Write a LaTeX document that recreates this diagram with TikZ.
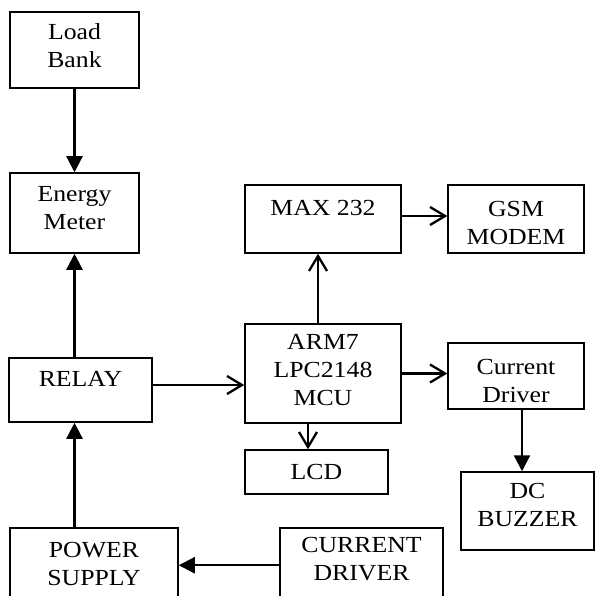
\documentclass[tikz,border=0pt]{standalone}
\usepackage{fontspec}
\setmainfont{Liberation Serif}[FakeStretch=1.12]
\usetikzlibrary{arrows.meta}
\tikzset{
  box/.style={draw, line width=1.5pt, rectangle, inner sep=0pt},
  txt/.style={align=center, inner sep=0pt, font=\fontsize{23}{28}\selectfont},
  solidarrow/.style={line width=2.3pt, -{Triangle[length=16pt,width=16pt]}},
  openarrow/.style={line width=2.3pt, -{Straight Barb[length=15pt,width=18pt,line width=2.3pt]}},
}
\begin{document}
\begin{tikzpicture}[x=1pt,y=-1pt]
\clip (0,0) rectangle (595,596);
\fill[white] (0,0) rectangle (595,596);
% boxes
\node[box, minimum width=129pt, minimum height=76pt] (load) at (74.5,50) {};
\node[box, minimum width=129pt, minimum height=80pt] (meter) at (74.5,213) {};
\node[box, minimum width=156pt, minimum height=68pt] (max) at (323,219) {};
\node[box, minimum width=136pt, minimum height=68pt] (gsm) at (516,219) {};
\node[box, minimum width=143pt, minimum height=64pt] (relay) at (80.5,390) {};
\node[box, minimum width=156pt, minimum height=99pt] (arm) at (323,373.5) {};
\node[box, minimum width=136pt, minimum height=66pt] (cdrv) at (516,376) {};
\node[box, minimum width=143pt, minimum height=44pt] (lcd) at (316.5,472) {};
\node[box, minimum width=133pt, minimum height=78pt] (buzz) at (527.5,511) {};
\node[box, minimum width=168pt, minimum height=92pt] (ps) at (94,574) {};
\node[box, minimum width=163pt, minimum height=92pt] (cd2) at (361.5,574) {};
% texts
\node[txt] (tload) at (74.5,46) {Load\\Bank};
\node[txt] (tmeter) at (74.5,208.5) {Energy\\Meter};
\node[txt] (tmax) at (323,208) {MAX 232};
\node[txt] (tgsm) at (516,223) {GSM\\MODEM};
\node[txt] (trelay) at (80.5,379) {RELAY};
\node[txt] (tarm) at (323,370) {ARM7\\LPC2148\\MCU};
\node[txt] (tcdrv) at (516,381) {Current\\Driver};
\node[txt] (tlcd) at (316.5,472) {LCD};
\node[txt] (tbuzz) at (527.5,504.5) {DC\\BUZZER};
\node[txt] (tps) at (94,563.5) {POWER\\SUPPLY};
\node[txt] (tcd2) at (361.5,559.5) {CURRENT\\DRIVER};
% connectors
\draw[solidarrow] (load.south) -- (meter.north);
\draw[solidarrow] (relay.north -| meter.south) -- (meter.south);
\draw[solidarrow] (ps.north -| meter.south) -- (relay.south -| meter.south);
\draw[openarrow] ([yshift=5pt]relay.east) -- ([yshift=5pt]arm.west |- relay.east);
\draw[openarrow] ([xshift=-5pt]arm.north) -- ([xshift=-5pt]max.south);
\draw[openarrow] ([yshift=3pt]max.east) -- ([yshift=3pt]gsm.west);
\draw[openarrow] (arm.east) -- (cdrv.west |- arm.east);
\draw[openarrow] ([xshift=-15pt]arm.south) -- ([xshift=-15pt]arm.south |- lcd.north);
\draw[solidarrow] ([xshift=6pt]cdrv.south) -- ([xshift=6pt]cdrv.south |- buzz.north);
\draw[solidarrow] ([yshift=-38pt]cd2.north west) -- ([yshift=-38pt]ps.north east);
\end{tikzpicture}
\end{document}
